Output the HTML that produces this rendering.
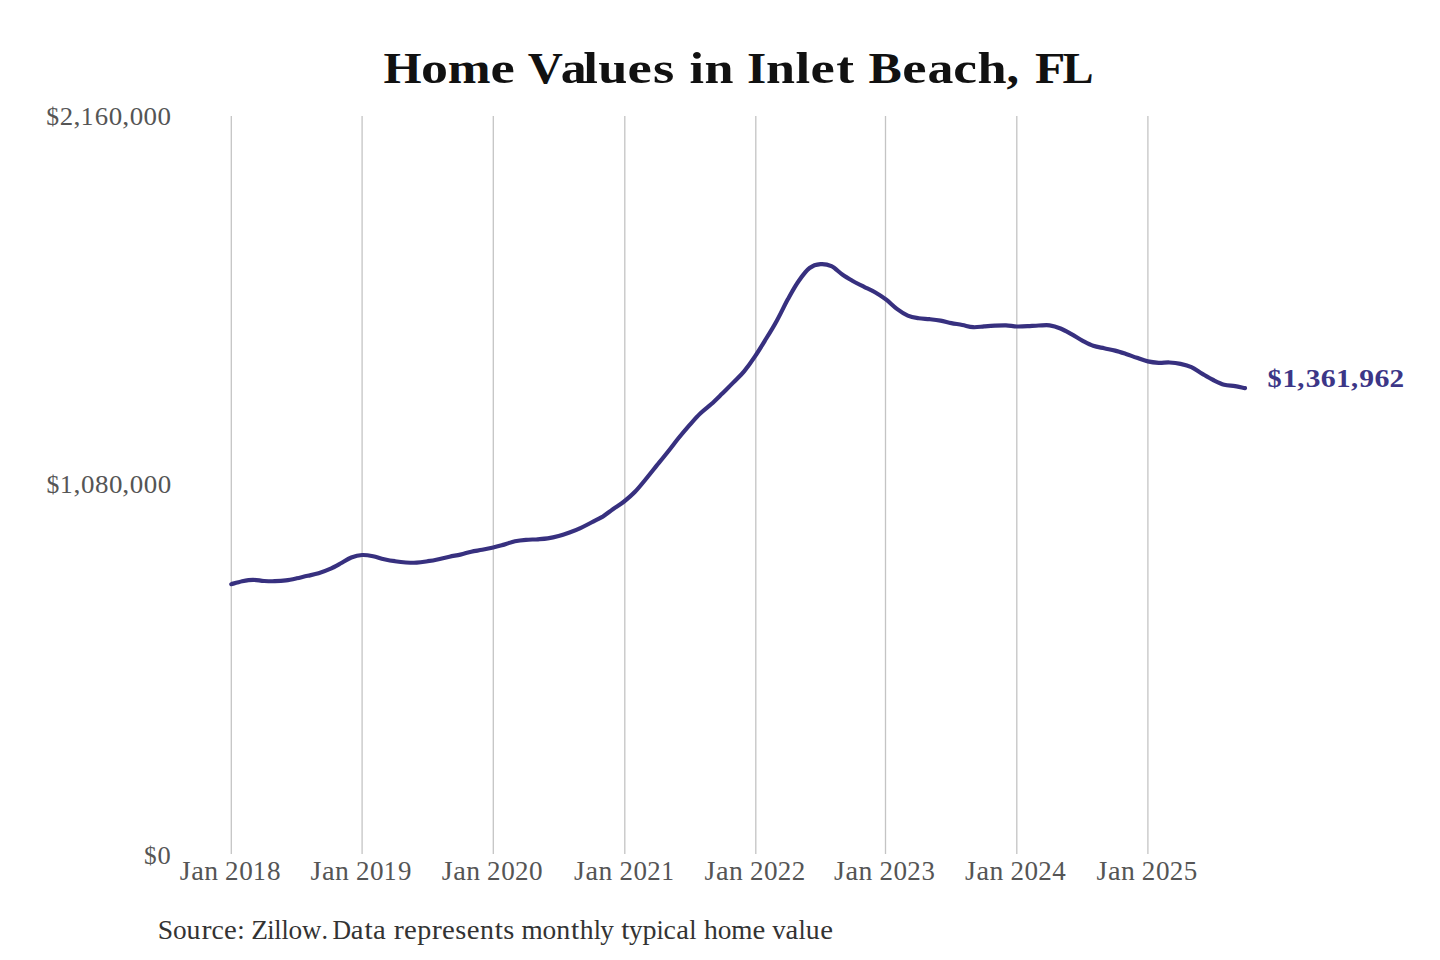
<!DOCTYPE html>
<html><head><meta charset="utf-8"><title>Home Values in Inlet Beach, FL</title>
<style>html,body{margin:0;padding:0;background:#fff;width:1440px;height:960px;overflow:hidden}svg{display:block}text{font-family:"Liberation Serif",serif}</style>
</head><body>
<svg width="1440" height="960" viewBox="0 0 1440 960">
<rect width="1440" height="960" fill="#fff"/>
<line x1="231.3" y1="116" x2="231.3" y2="854" stroke="#c4c4c4" stroke-width="1.3"/><line x1="362.1" y1="116" x2="362.1" y2="854" stroke="#c4c4c4" stroke-width="1.3"/><line x1="493.3" y1="116" x2="493.3" y2="854" stroke="#c4c4c4" stroke-width="1.3"/><line x1="624.8" y1="116" x2="624.8" y2="854" stroke="#c4c4c4" stroke-width="1.3"/><line x1="755.8" y1="116" x2="755.8" y2="854" stroke="#c4c4c4" stroke-width="1.3"/><line x1="885.5" y1="116" x2="885.5" y2="854" stroke="#c4c4c4" stroke-width="1.3"/><line x1="1016.8" y1="116" x2="1016.8" y2="854" stroke="#c4c4c4" stroke-width="1.3"/><line x1="1147.9" y1="116" x2="1147.9" y2="854" stroke="#c4c4c4" stroke-width="1.3"/>
<path d="M231.3,584.2 C233.1,583.7 238.6,582.0 242.2,581.2 C245.8,580.5 249.5,579.8 253.1,579.8 C256.8,579.8 260.4,580.8 264.0,581.0 C267.7,581.2 271.3,581.4 274.9,581.2 C278.6,581.1 282.2,580.9 285.9,580.4 C289.5,579.9 293.1,579.1 296.8,578.3 C300.4,577.5 304.0,576.6 307.7,575.8 C311.3,575.0 314.9,574.4 318.6,573.3 C322.2,572.2 325.9,570.8 329.5,569.2 C333.1,567.6 336.8,565.5 340.4,563.5 C344.0,561.5 347.7,558.9 351.3,557.5 C355.0,556.1 358.6,555.2 362.2,555.0 C365.9,554.8 369.5,555.5 373.1,556.2 C376.8,557.0 380.4,558.4 384.1,559.2 C387.7,560.0 391.3,560.7 395.0,561.2 C398.6,561.8 402.2,562.3 405.9,562.5 C409.5,562.7 413.1,562.9 416.8,562.7 C420.4,562.5 424.1,561.8 427.7,561.2 C431.3,560.7 435.0,560.0 438.6,559.2 C442.2,558.4 445.9,557.5 449.5,556.7 C453.2,555.9 456.8,555.4 460.4,554.6 C464.1,553.8 467.7,552.5 471.3,551.7 C475.0,550.9 478.6,550.5 482.2,549.8 C485.9,549.1 489.5,548.4 493.2,547.5 C496.8,546.6 500.4,545.6 504.1,544.6 C507.7,543.6 511.3,542.0 515.0,541.2 C518.6,540.5 522.3,540.1 525.9,539.8 C529.5,539.5 533.2,539.5 536.8,539.3 C540.4,539.0 544.1,538.8 547.7,538.3 C551.3,537.8 555.0,537.0 558.6,536.0 C562.3,535.0 565.9,533.8 569.5,532.5 C573.2,531.2 576.8,529.8 580.4,528.1 C584.1,526.4 587.7,524.4 591.4,522.5 C595.0,520.6 598.6,519.1 602.3,516.9 C605.9,514.6 609.5,511.6 613.2,509.0 C616.8,506.4 620.4,504.4 624.1,501.5 C627.7,498.6 631.4,495.6 635.0,491.8 C638.6,488.1 642.3,483.4 645.9,479.0 C649.5,474.6 653.2,469.9 656.8,465.4 C660.5,460.9 664.1,456.6 667.7,452.0 C671.4,447.4 675.0,442.5 678.6,438.0 C682.3,433.5 685.9,429.2 689.5,425.1 C693.2,421.0 696.8,416.8 700.5,413.3 C704.1,409.8 707.7,407.3 711.4,404.0 C715.0,400.7 718.6,397.1 722.3,393.5 C725.9,389.9 729.6,386.3 733.2,382.6 C736.8,378.9 740.5,375.7 744.1,371.3 C747.7,366.9 751.4,361.7 755.0,356.3 C758.7,350.9 762.3,344.9 765.9,339.0 C769.6,333.1 773.2,327.3 776.8,320.7 C780.5,314.1 784.1,306.1 787.7,299.5 C791.4,292.9 795.0,286.2 798.7,281.0 C802.3,275.8 805.9,270.8 809.6,268.0 C813.2,265.2 816.8,264.4 820.5,264.1 C824.1,263.8 827.8,264.5 831.4,266.2 C835.0,267.9 838.7,272.0 842.3,274.5 C845.9,277.0 849.6,279.1 853.2,281.2 C856.8,283.2 860.5,285.0 864.1,286.8 C867.8,288.6 871.4,290.1 875.0,292.2 C878.7,294.3 882.3,296.6 885.9,299.4 C889.6,302.2 893.2,306.2 896.9,308.9 C900.5,311.6 904.1,314.0 907.8,315.6 C911.4,317.2 915.0,317.7 918.7,318.3 C922.3,318.9 925.9,318.8 929.6,319.2 C933.2,319.6 936.9,320.0 940.5,320.6 C944.1,321.2 947.8,322.4 951.4,323.1 C955.0,323.8 958.7,324.3 962.3,325.0 C966.0,325.7 969.6,327.0 973.2,327.2 C976.9,327.4 980.5,326.7 984.1,326.4 C987.8,326.1 991.4,325.8 995.0,325.6 C998.7,325.4 1002.3,325.2 1006.0,325.3 C1009.6,325.4 1013.2,326.4 1016.9,326.5 C1020.5,326.6 1024.1,326.4 1027.8,326.2 C1031.4,326.0 1035.1,325.6 1038.7,325.5 C1042.3,325.4 1046.0,324.8 1049.6,325.3 C1053.2,325.8 1056.9,327.0 1060.5,328.5 C1064.2,330.0 1067.8,332.2 1071.4,334.2 C1075.1,336.2 1078.7,338.7 1082.3,340.6 C1086.0,342.5 1089.6,344.5 1093.2,345.8 C1096.9,347.1 1100.5,347.5 1104.2,348.3 C1107.8,349.1 1111.4,349.7 1115.1,350.6 C1118.7,351.5 1122.3,352.7 1126.0,353.9 C1129.6,355.1 1133.3,356.6 1136.9,357.8 C1140.5,359.1 1144.2,360.6 1147.8,361.4 C1151.4,362.2 1155.1,362.6 1158.7,362.8 C1162.3,363.0 1166.0,362.3 1169.6,362.5 C1173.3,362.7 1176.9,363.1 1180.5,363.9 C1184.2,364.7 1187.8,365.5 1191.4,367.2 C1195.1,368.9 1198.7,371.8 1202.4,373.9 C1206.0,376.0 1209.6,378.2 1213.3,380.0 C1216.9,381.8 1220.5,383.7 1224.2,384.7 C1227.8,385.7 1231.6,385.5 1235.1,386.1 C1238.6,386.7 1243.3,387.8 1245.0,388.1" fill="none" stroke="#37307f" stroke-width="4.2" stroke-linejoin="round" stroke-linecap="round"/>
<text transform="translate(383.43,83.10) scale(1.100,1)" font-size="44.52" font-weight="bold" fill="#111">H</text>
<text transform="translate(421.11,83.10) scale(1.212,1)" font-size="44.52" font-weight="bold" fill="#111">o</text>
<text transform="translate(447.78,83.10) scale(1.155,1)" font-size="44.52" font-weight="bold" fill="#111">m</text>
<text transform="translate(490.47,83.10) scale(1.227,1)" font-size="44.52" font-weight="bold" fill="#111">e</text>
<text transform="translate(527.84,83.10) scale(1.094,1)" font-size="44.52" font-weight="bold" fill="#111">V</text>
<text transform="translate(560.66,83.10) scale(1.164,1)" font-size="44.52" font-weight="bold" fill="#111">a</text>
<text transform="translate(583.37,83.10) scale(1.185,1)" font-size="44.52" font-weight="bold" fill="#111">l</text>
<text transform="translate(598.19,83.10) scale(1.175,1)" font-size="44.52" font-weight="bold" fill="#111">u</text>
<text transform="translate(627.40,83.10) scale(1.227,1)" font-size="44.52" font-weight="bold" fill="#111">e</text>
<text transform="translate(653.08,83.10) scale(1.229,1)" font-size="44.52" font-weight="bold" fill="#111">s</text>
<text transform="translate(689.48,83.10) scale(1.173,1)" font-size="44.52" font-weight="bold" fill="#111">i</text>
<text transform="translate(704.39,83.10) scale(1.171,1)" font-size="44.52" font-weight="bold" fill="#111">n</text>
<text transform="translate(746.98,83.10) scale(1.111,1)" font-size="44.52" font-weight="bold" fill="#111">I</text>
<text transform="translate(766.11,83.10) scale(1.171,1)" font-size="44.52" font-weight="bold" fill="#111">n</text>
<text transform="translate(795.53,83.10) scale(1.185,1)" font-size="44.52" font-weight="bold" fill="#111">l</text>
<text transform="translate(810.49,83.10) scale(1.227,1)" font-size="44.52" font-weight="bold" fill="#111">e</text>
<text transform="translate(836.16,83.10) scale(1.199,1)" font-size="44.52" font-weight="bold" fill="#111">t</text>
<text transform="translate(868.53,83.10) scale(1.121,1)" font-size="44.52" font-weight="bold" fill="#111">B</text>
<text transform="translate(902.15,83.10) scale(1.227,1)" font-size="44.52" font-weight="bold" fill="#111">e</text>
<text transform="translate(927.38,83.10) scale(1.164,1)" font-size="44.52" font-weight="bold" fill="#111">a</text>
<text transform="translate(953.30,83.10) scale(1.199,1)" font-size="44.52" font-weight="bold" fill="#111">c</text>
<text transform="translate(977.62,83.10) scale(1.175,1)" font-size="44.52" font-weight="bold" fill="#111">h</text>
<text transform="translate(1006.44,83.10) scale(1.127,1)" font-size="44.52" font-weight="bold" fill="#111">,</text>
<text transform="translate(1035.03,83.10) scale(1.116,1)" font-size="44.52" font-weight="bold" fill="#111">F</text>
<text transform="translate(1062.61,83.10) scale(1.047,1)" font-size="44.52" font-weight="bold" fill="#111">L</text>
<text transform="translate(46.30,124.60) scale(1.004,1)" font-size="25.62" font-weight="normal" fill="#555">$</text>
<text transform="translate(59.84,124.60) scale(1.046,1)" font-size="25.62" font-weight="normal" fill="#555">2</text>
<text transform="translate(73.38,124.60) scale(1.084,1)" font-size="25.62" font-weight="normal" fill="#555">,</text>
<text transform="translate(80.77,124.60) scale(0.987,1)" font-size="25.62" font-weight="normal" fill="#555">1</text>
<text transform="translate(94.79,124.60) scale(1.045,1)" font-size="25.62" font-weight="normal" fill="#555">6</text>
<text transform="translate(108.75,124.60) scale(1.053,1)" font-size="25.62" font-weight="normal" fill="#555">0</text>
<text transform="translate(122.14,124.60) scale(1.084,1)" font-size="25.62" font-weight="normal" fill="#555">,</text>
<text transform="translate(129.65,124.60) scale(1.053,1)" font-size="25.62" font-weight="normal" fill="#555">0</text>
<text transform="translate(143.58,124.60) scale(1.053,1)" font-size="25.62" font-weight="normal" fill="#555">0</text>
<text transform="translate(157.51,124.60) scale(1.053,1)" font-size="25.62" font-weight="normal" fill="#555">0</text>
<text transform="translate(46.50,492.50) scale(1.004,1)" font-size="25.62" font-weight="normal" fill="#555">$</text>
<text transform="translate(60.08,492.50) scale(0.987,1)" font-size="25.62" font-weight="normal" fill="#555">1</text>
<text transform="translate(73.58,492.50) scale(1.084,1)" font-size="25.62" font-weight="normal" fill="#555">,</text>
<text transform="translate(81.09,492.50) scale(1.053,1)" font-size="25.62" font-weight="normal" fill="#555">0</text>
<text transform="translate(95.02,492.50) scale(1.053,1)" font-size="25.62" font-weight="normal" fill="#555">8</text>
<text transform="translate(108.95,492.50) scale(1.053,1)" font-size="25.62" font-weight="normal" fill="#555">0</text>
<text transform="translate(122.34,492.50) scale(1.084,1)" font-size="25.62" font-weight="normal" fill="#555">,</text>
<text transform="translate(129.85,492.50) scale(1.053,1)" font-size="25.62" font-weight="normal" fill="#555">0</text>
<text transform="translate(143.78,492.50) scale(1.053,1)" font-size="25.62" font-weight="normal" fill="#555">0</text>
<text transform="translate(157.71,492.50) scale(1.053,1)" font-size="25.62" font-weight="normal" fill="#555">0</text>
<text transform="translate(143.88,863.70) scale(0.986,1)" font-size="25.62" font-weight="normal" fill="#555">$</text>
<text transform="translate(157.57,863.70) scale(1.034,1)" font-size="25.62" font-weight="normal" fill="#555">0</text>
<text transform="translate(179.74,879.70) scale(1.059,1)" font-size="26.28" font-weight="normal" fill="#555">J</text>
<text transform="translate(191.16,879.70) scale(1.083,1)" font-size="26.28" font-weight="normal" fill="#555">a</text>
<text transform="translate(204.17,879.70) scale(1.054,1)" font-size="26.28" font-weight="normal" fill="#555">n</text>
<text transform="translate(225.11,879.70) scale(1.029,1)" font-size="26.28" font-weight="normal" fill="#555">2</text>
<text transform="translate(239.20,879.70) scale(1.035,1)" font-size="26.28" font-weight="normal" fill="#555">0</text>
<text transform="translate(253.02,879.70) scale(0.970,1)" font-size="26.28" font-weight="normal" fill="#555">1</text>
<text transform="translate(267.07,879.70) scale(1.035,1)" font-size="26.28" font-weight="normal" fill="#555">8</text>
<text transform="translate(310.54,879.70) scale(1.059,1)" font-size="26.28" font-weight="normal" fill="#555">J</text>
<text transform="translate(321.96,879.70) scale(1.083,1)" font-size="26.28" font-weight="normal" fill="#555">a</text>
<text transform="translate(334.97,879.70) scale(1.054,1)" font-size="26.28" font-weight="normal" fill="#555">n</text>
<text transform="translate(355.91,879.70) scale(1.029,1)" font-size="26.28" font-weight="normal" fill="#555">2</text>
<text transform="translate(370.00,879.70) scale(1.035,1)" font-size="26.28" font-weight="normal" fill="#555">0</text>
<text transform="translate(383.82,879.70) scale(0.970,1)" font-size="26.28" font-weight="normal" fill="#555">1</text>
<text transform="translate(398.08,879.70) scale(1.023,1)" font-size="26.28" font-weight="normal" fill="#555">9</text>
<text transform="translate(441.74,879.70) scale(1.059,1)" font-size="26.28" font-weight="normal" fill="#555">J</text>
<text transform="translate(453.16,879.70) scale(1.083,1)" font-size="26.28" font-weight="normal" fill="#555">a</text>
<text transform="translate(466.17,879.70) scale(1.054,1)" font-size="26.28" font-weight="normal" fill="#555">n</text>
<text transform="translate(487.11,879.70) scale(1.029,1)" font-size="26.28" font-weight="normal" fill="#555">2</text>
<text transform="translate(501.20,879.70) scale(1.035,1)" font-size="26.28" font-weight="normal" fill="#555">0</text>
<text transform="translate(514.98,879.70) scale(1.029,1)" font-size="26.28" font-weight="normal" fill="#555">2</text>
<text transform="translate(529.07,879.70) scale(1.035,1)" font-size="26.28" font-weight="normal" fill="#555">0</text>
<text transform="translate(574.10,879.70) scale(1.053,1)" font-size="26.28" font-weight="normal" fill="#555">J</text>
<text transform="translate(585.52,879.70) scale(1.077,1)" font-size="26.28" font-weight="normal" fill="#555">a</text>
<text transform="translate(598.53,879.70) scale(1.049,1)" font-size="26.28" font-weight="normal" fill="#555">n</text>
<text transform="translate(619.47,879.70) scale(1.023,1)" font-size="26.28" font-weight="normal" fill="#555">2</text>
<text transform="translate(633.56,879.70) scale(1.030,1)" font-size="26.28" font-weight="normal" fill="#555">0</text>
<text transform="translate(647.34,879.70) scale(1.023,1)" font-size="26.28" font-weight="normal" fill="#555">2</text>
<text transform="translate(661.31,879.70) scale(0.965,1)" font-size="26.28" font-weight="normal" fill="#555">1</text>
<text transform="translate(704.58,879.70) scale(1.057,1)" font-size="26.28" font-weight="normal" fill="#555">J</text>
<text transform="translate(716.00,879.70) scale(1.082,1)" font-size="26.28" font-weight="normal" fill="#555">a</text>
<text transform="translate(729.01,879.70) scale(1.053,1)" font-size="26.28" font-weight="normal" fill="#555">n</text>
<text transform="translate(749.95,879.70) scale(1.028,1)" font-size="26.28" font-weight="normal" fill="#555">2</text>
<text transform="translate(764.04,879.70) scale(1.034,1)" font-size="26.28" font-weight="normal" fill="#555">0</text>
<text transform="translate(777.82,879.70) scale(1.028,1)" font-size="26.28" font-weight="normal" fill="#555">2</text>
<text transform="translate(791.75,879.70) scale(1.028,1)" font-size="26.28" font-weight="normal" fill="#555">2</text>
<text transform="translate(834.06,879.70) scale(1.057,1)" font-size="26.28" font-weight="normal" fill="#555">J</text>
<text transform="translate(845.48,879.70) scale(1.082,1)" font-size="26.28" font-weight="normal" fill="#555">a</text>
<text transform="translate(858.49,879.70) scale(1.053,1)" font-size="26.28" font-weight="normal" fill="#555">n</text>
<text transform="translate(879.43,879.70) scale(1.028,1)" font-size="26.28" font-weight="normal" fill="#555">2</text>
<text transform="translate(893.52,879.70) scale(1.034,1)" font-size="26.28" font-weight="normal" fill="#555">0</text>
<text transform="translate(907.30,879.70) scale(1.028,1)" font-size="26.28" font-weight="normal" fill="#555">2</text>
<text transform="translate(921.41,879.70) scale(1.020,1)" font-size="26.28" font-weight="normal" fill="#555">3</text>
<text transform="translate(965.09,879.70) scale(1.057,1)" font-size="26.28" font-weight="normal" fill="#555">J</text>
<text transform="translate(976.51,879.70) scale(1.081,1)" font-size="26.28" font-weight="normal" fill="#555">a</text>
<text transform="translate(989.52,879.70) scale(1.052,1)" font-size="26.28" font-weight="normal" fill="#555">n</text>
<text transform="translate(1010.46,879.70) scale(1.027,1)" font-size="26.28" font-weight="normal" fill="#555">2</text>
<text transform="translate(1024.55,879.70) scale(1.033,1)" font-size="26.28" font-weight="normal" fill="#555">0</text>
<text transform="translate(1038.33,879.70) scale(1.027,1)" font-size="26.28" font-weight="normal" fill="#555">2</text>
<text transform="translate(1052.15,879.70) scale(1.030,1)" font-size="26.28" font-weight="normal" fill="#555">4</text>
<text transform="translate(1096.46,879.70) scale(1.057,1)" font-size="26.28" font-weight="normal" fill="#555">J</text>
<text transform="translate(1107.88,879.70) scale(1.082,1)" font-size="26.28" font-weight="normal" fill="#555">a</text>
<text transform="translate(1120.89,879.70) scale(1.053,1)" font-size="26.28" font-weight="normal" fill="#555">n</text>
<text transform="translate(1141.83,879.70) scale(1.028,1)" font-size="26.28" font-weight="normal" fill="#555">2</text>
<text transform="translate(1155.92,879.70) scale(1.034,1)" font-size="26.28" font-weight="normal" fill="#555">0</text>
<text transform="translate(1169.70,879.70) scale(1.028,1)" font-size="26.28" font-weight="normal" fill="#555">2</text>
<text transform="translate(1183.66,879.70) scale(1.028,1)" font-size="26.28" font-weight="normal" fill="#555">5</text>
<text transform="translate(157.81,938.90) scale(1.034,1)" font-size="26.75" font-weight="normal" fill="#333">S</text>
<text transform="translate(172.94,938.90) scale(1.021,1)" font-size="26.75" font-weight="normal" fill="#333">o</text>
<text transform="translate(186.57,938.90) scale(1.039,1)" font-size="26.75" font-weight="normal" fill="#333">u</text>
<text transform="translate(201.38,938.90) scale(1.130,1)" font-size="26.75" font-weight="normal" fill="#333">r</text>
<text transform="translate(211.46,938.90) scale(1.042,1)" font-size="26.75" font-weight="normal" fill="#333">c</text>
<text transform="translate(224.09,938.90) scale(1.077,1)" font-size="26.75" font-weight="normal" fill="#333">e</text>
<text transform="translate(237.31,938.90) scale(0.995,1)" font-size="26.75" font-weight="normal" fill="#333">:</text>
<text transform="translate(251.37,938.90) scale(1.023,1)" font-size="26.75" font-weight="normal" fill="#333">Z</text>
<text transform="translate(267.30,938.90) scale(0.974,1)" font-size="26.75" font-weight="normal" fill="#333">i</text>
<text transform="translate(274.31,938.90) scale(0.974,1)" font-size="26.75" font-weight="normal" fill="#333">l</text>
<text transform="translate(281.44,938.90) scale(0.974,1)" font-size="26.75" font-weight="normal" fill="#333">l</text>
<text transform="translate(288.51,938.90) scale(1.021,1)" font-size="26.75" font-weight="normal" fill="#333">o</text>
<text transform="translate(301.98,938.90) scale(1.004,1)" font-size="26.75" font-weight="normal" fill="#333">w</text>
<text transform="translate(321.46,938.90) scale(0.974,1)" font-size="26.75" font-weight="normal" fill="#333">.</text>
<text transform="translate(332.41,938.90) scale(0.960,1)" font-size="26.75" font-weight="normal" fill="#333">D</text>
<text transform="translate(350.78,938.90) scale(1.073,1)" font-size="26.75" font-weight="normal" fill="#333">a</text>
<text transform="translate(364.42,938.90) scale(1.108,1)" font-size="26.75" font-weight="normal" fill="#333">t</text>
<text transform="translate(373.03,938.90) scale(1.073,1)" font-size="26.75" font-weight="normal" fill="#333">a</text>
<text transform="translate(393.69,938.90) scale(1.130,1)" font-size="26.75" font-weight="normal" fill="#333">r</text>
<text transform="translate(403.92,938.90) scale(1.077,1)" font-size="26.75" font-weight="normal" fill="#333">e</text>
<text transform="translate(417.26,938.90) scale(1.049,1)" font-size="26.75" font-weight="normal" fill="#333">p</text>
<text transform="translate(431.81,938.90) scale(1.130,1)" font-size="26.75" font-weight="normal" fill="#333">r</text>
<text transform="translate(442.04,938.90) scale(1.077,1)" font-size="26.75" font-weight="normal" fill="#333">e</text>
<text transform="translate(455.27,938.90) scale(1.061,1)" font-size="26.75" font-weight="normal" fill="#333">s</text>
<text transform="translate(466.67,938.90) scale(1.077,1)" font-size="26.75" font-weight="normal" fill="#333">e</text>
<text transform="translate(479.95,938.90) scale(1.045,1)" font-size="26.75" font-weight="normal" fill="#333">n</text>
<text transform="translate(494.70,938.90) scale(1.108,1)" font-size="26.75" font-weight="normal" fill="#333">t</text>
<text transform="translate(503.21,938.90) scale(1.061,1)" font-size="26.75" font-weight="normal" fill="#333">s</text>
<text transform="translate(521.54,938.90) scale(1.020,1)" font-size="26.75" font-weight="normal" fill="#333">m</text>
<text transform="translate(542.60,938.90) scale(1.021,1)" font-size="26.75" font-weight="normal" fill="#333">o</text>
<text transform="translate(556.34,938.90) scale(1.045,1)" font-size="26.75" font-weight="normal" fill="#333">n</text>
<text transform="translate(571.10,938.90) scale(1.108,1)" font-size="26.75" font-weight="normal" fill="#333">t</text>
<text transform="translate(579.87,938.90) scale(1.034,1)" font-size="26.75" font-weight="normal" fill="#333">h</text>
<text transform="translate(593.74,938.90) scale(0.974,1)" font-size="26.75" font-weight="normal" fill="#333">l</text>
<text transform="translate(600.34,938.90) scale(1.014,1)" font-size="26.75" font-weight="normal" fill="#333">y</text>
<text transform="translate(621.22,938.90) scale(1.108,1)" font-size="26.75" font-weight="normal" fill="#333">t</text>
<text transform="translate(628.98,938.90) scale(1.014,1)" font-size="26.75" font-weight="normal" fill="#333">y</text>
<text transform="translate(642.42,938.90) scale(1.049,1)" font-size="26.75" font-weight="normal" fill="#333">p</text>
<text transform="translate(656.48,938.90) scale(0.974,1)" font-size="26.75" font-weight="normal" fill="#333">i</text>
<text transform="translate(663.54,938.90) scale(1.042,1)" font-size="26.75" font-weight="normal" fill="#333">c</text>
<text transform="translate(676.30,938.90) scale(1.073,1)" font-size="26.75" font-weight="normal" fill="#333">a</text>
<text transform="translate(689.27,938.90) scale(0.974,1)" font-size="26.75" font-weight="normal" fill="#333">l</text>
<text transform="translate(703.97,938.90) scale(1.034,1)" font-size="26.75" font-weight="normal" fill="#333">h</text>
<text transform="translate(717.78,938.90) scale(1.021,1)" font-size="26.75" font-weight="normal" fill="#333">o</text>
<text transform="translate(731.28,938.90) scale(1.020,1)" font-size="26.75" font-weight="normal" fill="#333">m</text>
<text transform="translate(752.57,938.90) scale(1.077,1)" font-size="26.75" font-weight="normal" fill="#333">e</text>
<text transform="translate(772.31,938.90) scale(0.999,1)" font-size="26.75" font-weight="normal" fill="#333">v</text>
<text transform="translate(785.58,938.90) scale(1.073,1)" font-size="26.75" font-weight="normal" fill="#333">a</text>
<text transform="translate(798.55,938.90) scale(0.974,1)" font-size="26.75" font-weight="normal" fill="#333">l</text>
<text transform="translate(805.84,938.90) scale(1.039,1)" font-size="26.75" font-weight="normal" fill="#333">u</text>
<text transform="translate(820.22,938.90) scale(1.077,1)" font-size="26.75" font-weight="normal" fill="#333">e</text>
<text transform="translate(1267.62,386.50) scale(1.120,1)" font-size="25.30" font-weight="bold" fill="#3c3687">$</text>
<text transform="translate(1282.45,386.50) scale(1.155,1)" font-size="25.30" font-weight="bold" fill="#3c3687">1</text>
<text transform="translate(1297.37,386.50) scale(1.119,1)" font-size="25.30" font-weight="bold" fill="#3c3687">,</text>
<text transform="translate(1305.64,386.50) scale(1.163,1)" font-size="25.30" font-weight="bold" fill="#3c3687">3</text>
<text transform="translate(1320.81,386.50) scale(1.182,1)" font-size="25.30" font-weight="bold" fill="#3c3687">6</text>
<text transform="translate(1336.03,386.50) scale(1.155,1)" font-size="25.30" font-weight="bold" fill="#3c3687">1</text>
<text transform="translate(1350.95,386.50) scale(1.119,1)" font-size="25.30" font-weight="bold" fill="#3c3687">,</text>
<text transform="translate(1359.21,386.50) scale(1.170,1)" font-size="25.30" font-weight="bold" fill="#3c3687">9</text>
<text transform="translate(1374.39,386.50) scale(1.182,1)" font-size="25.30" font-weight="bold" fill="#3c3687">6</text>
<text transform="translate(1389.55,386.50) scale(1.156,1)" font-size="25.30" font-weight="bold" fill="#3c3687">2</text>
</svg>
</body></html>
